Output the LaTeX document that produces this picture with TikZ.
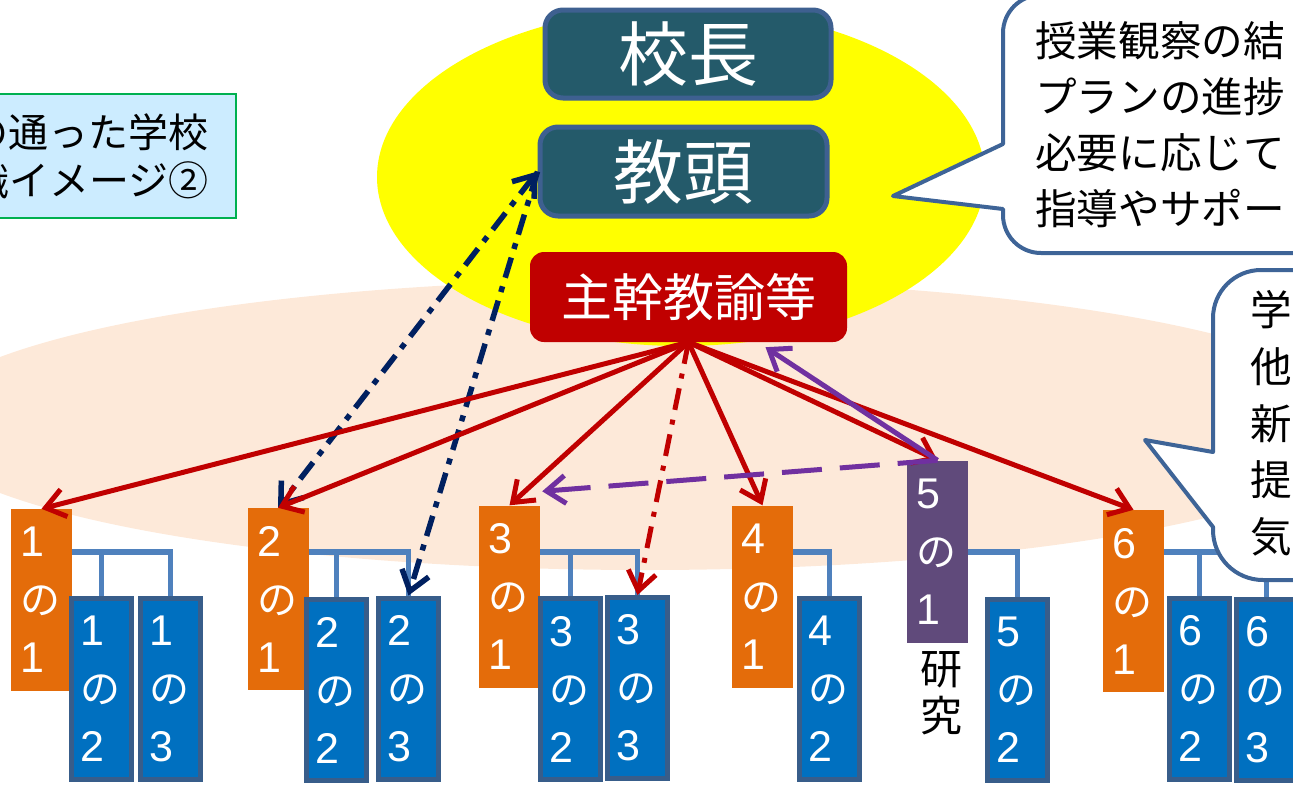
\documentclass[tikz,border=0pt]{standalone}
\usepackage{fontspec}
\setmainfont{Noto Sans CJK JP}
\newfontfamily\digf{Liberation Sans}
\usetikzlibrary{arrows.meta}
\definecolor{peach}{HTML}{FDE9D9}
\definecolor{tealf}{HTML}{245A6A}
\definecolor{tealbd}{HTML}{3E6090}
\definecolor{redm}{HTML}{C00000}
\definecolor{orangem}{HTML}{E46C0A}
\definecolor{bluef}{HTML}{0070C0}
\definecolor{bluebd}{HTML}{385D8A}
\definecolor{purplen}{HTML}{604A7B}
\definecolor{purplel}{HTML}{7030A0}
\definecolor{navym}{HTML}{002060}
\definecolor{treel}{HTML}{4F81BD}
\definecolor{lightb}{HTML}{CCECFF}
\definecolor{greenb}{HTML}{00B050}
\definecolor{callbd}{HTML}{3E6497}
\definecolor{yellowm}{HTML}{FFFF00}
\newcommand{\dg}[1]{{\digf\fontsize{43}{58}\selectfont #1}}
\tikzset{
  classbox/.style={inner ysep=0pt, inner xsep=9.5pt, text width=42pt, align=left,
    text=white, font=\fontsize{40}{58}\selectfont, minimum height=182pt, minimum width=61pt},
  orangebox/.style={classbox, fill=orangem},
  purplebox/.style={classbox, fill=purplen},
  bluebox/.style={classbox, fill=bluef, draw=bluebd, line width=5pt, inner xsep=9pt,
    minimum height=181pt, minimum width=60pt},
  topbox/.style={fill=tealf, draw=tealbd, line width=5pt, rounded corners=18pt, text=white,
    font=\fontsize{70}{80}\selectfont, inner sep=0pt},
  mainbox/.style={fill=redm, rounded corners=14pt, text=white, font=\fontsize{51}{60}\selectfont,
    minimum width=317pt, minimum height=90pt, inner sep=0pt},
  tipbarb/.tip={Straight Barb[length=19pt,width=28pt]},
  redarrow/.style={draw=redm, line width=5pt, -tipbarb},
  reddashdot/.style={redarrow, dash pattern=on 22pt off 10pt on 5pt off 10pt},
  navyline/.style={draw=navym, line width=5.5pt, dash pattern=on 21pt off 9pt on 6pt off 9pt},
  purpleline/.style={draw=purplel, line width=5pt, -tipbarb},
  treeline/.style={draw=treel, line width=5.5pt},
  callout/.style={fill=white, draw=callbd, line width=4pt, line join=round},
  calltext/.style={inner sep=0pt, align=left, font=\fontsize{41.6}{56}\selectfont},
}
\begin{document}
\begin{tikzpicture}[x=1pt,y=-1pt]
\useasboundingbox (0,0) rectangle (1293,785);
\clip (0,0) rectangle (1293,785);
% background ellipses
\fill[peach] (645,425) ellipse [x radius=730, y radius=145];
\fill[yellowm] (681,177) ellipse [x radius=304, y radius=169];

% title box
\node[draw=greenb, fill=lightb, line width=2pt, anchor=north east, text width=280pt,
  align=center, inner xsep=27pt, inner ysep=0pt, minimum height=124pt,
  font=\fontsize{40}{48}\selectfont] (title) at (237,93) {血の通った学校\\組織イメージ②};

% top boxes
\node[topbox, minimum width=286pt, minimum height=88pt] (kocho) at (688,54) {校長};
\node[topbox, minimum width=287pt, minimum height=89pt] (kyoto) at (683.5,171.5) {教頭};
\node[mainbox] (s) at (688.5,297) {主幹教諭等};

% class nodes
\node[orangebox] (o11) at (41.5,600) {\dg{1}\\の\\\dg{1}};
\node[orangebox] (o21) at (278,599) {\dg{2}\\の\\\dg{1}};
\node[orangebox] (o31) at (509.5,596.5) {\dg{3}\\の\\\dg{1}};
\node[orangebox] (o41) at (762.5,596.5) {\dg{4}\\の\\\dg{1}};
\node[purplebox] (o51) at (937.5,551.5) {\dg{5}\\の\\\dg{1}};
\node[orangebox] (o61) at (1133.5,601) {\dg{6}\\の\\\dg{1}};

\node[bluebox] (b12) at (101.5,689) {\dg{1}\\の\\\dg{2}};
\node[bluebox] (b13) at (170.5,689) {\dg{1}\\の\\\dg{3}};
\node[bluebox] (b22) at (336.5,690) {\dg{2}\\の\\\dg{2}};
\node[bluebox] (b23) at (408.5,688.5) {\dg{2}\\の\\\dg{3}};
\node[bluebox] (b32) at (570.5,689) {\dg{3}\\の\\\dg{2}};
\node[bluebox] (b33) at (637.5,688) {\dg{3}\\の\\\dg{3}};
\node[bluebox] (b42) at (829.5,689) {\dg{4}\\の\\\dg{2}};
\node[bluebox] (b52) at (1017.5,690) {\dg{5}\\の\\\dg{2}};
\node[bluebox] (b62) at (1199.5,688.5) {\dg{6}\\の\\\dg{2}};
\node[bluebox] (b63) at (1266.5,689.5) {\dg{6}\\の\\\dg{3}};

\node[inner sep=0pt, align=center, font=\fontsize{42}{47}\selectfont] (ken) at (941,693.5) {研\\究};

% tree lines
\coordinate (hy) at (0,552);
\draw[treeline] (o11.east |- hy) -| (b13.north);
\draw[treeline] (o11.east |- hy) -| (b12.north);
\draw[treeline] (o21.east |- hy) -| (b23.north);
\draw[treeline] (o21.east |- hy) -| (b22.north);
\draw[treeline] (o31.east |- hy) -| (b33.north);
\draw[treeline] (o31.east |- hy) -| (b32.north);
\draw[treeline] (o41.east |- hy) -| (b42.north);
\draw[treeline] (o51.east |- hy) -| (b52.north);
\draw[treeline] (o61.east |- hy) -| (b63.north);
\draw[treeline] (o61.east |- hy) -| (b62.north);

% navy dash-dot arrows
\draw[navyline, tipbarb-tipbarb] (kyoto.west) -- (o21.north);
\draw[navyline, -tipbarb] (kyoto.west) -- (b23.north);

% red arrows
\draw[redarrow] (s.south) -- (o11.north);
\draw[redarrow] (s.south) -- (o21.north);
\draw[redarrow] (s.south) -- (o31.north);
\draw[reddashdot] (s.south) -- (b33.north);
\draw[redarrow] (s.south) -- (o41.north);
\draw[redarrow] (s.south) -- (o51.north);
\draw[redarrow] (s.south) -- (o61.north);

% purple arrows
\draw[purpleline] (o51.north) -- ([xshift=77pt,yshift=-5pt]s.south);
\draw[purpleline, dash pattern=on 40pt off 18pt] (o51.north) -- ([xshift=2pt,yshift=14pt]o31.north east);

% callouts
\draw[callout] (1003,144) -- (1003,33) arc[start angle=180, end angle=270, radius=38]
  -- (1340,-5) -- (1340,253) -- (1041,253) arc[start angle=90, end angle=180, radius=38]
  -- (1003,209) -- (893,196) -- cycle;
\node[calltext, anchor=west] (c1) at (1035,124.4) {授業観察の結\\プランの進捗\\必要に応じて\\指導やサポート};

\draw[callout] (1213,452) -- (1213,318) arc[start angle=180, end angle=270, radius=48]
  -- (1340,270) -- (1340,580) -- (1263,580) arc[start angle=90, end angle=180, radius=50]
  -- (1213,527) -- (1145,440) -- cycle;
\node[calltext, anchor=west, font=\fontsize{41.6}{56.7}\selectfont] (c2) at (1250,423.4) {学\\他\\新\\提\\気};
\end{tikzpicture}
\end{document}
